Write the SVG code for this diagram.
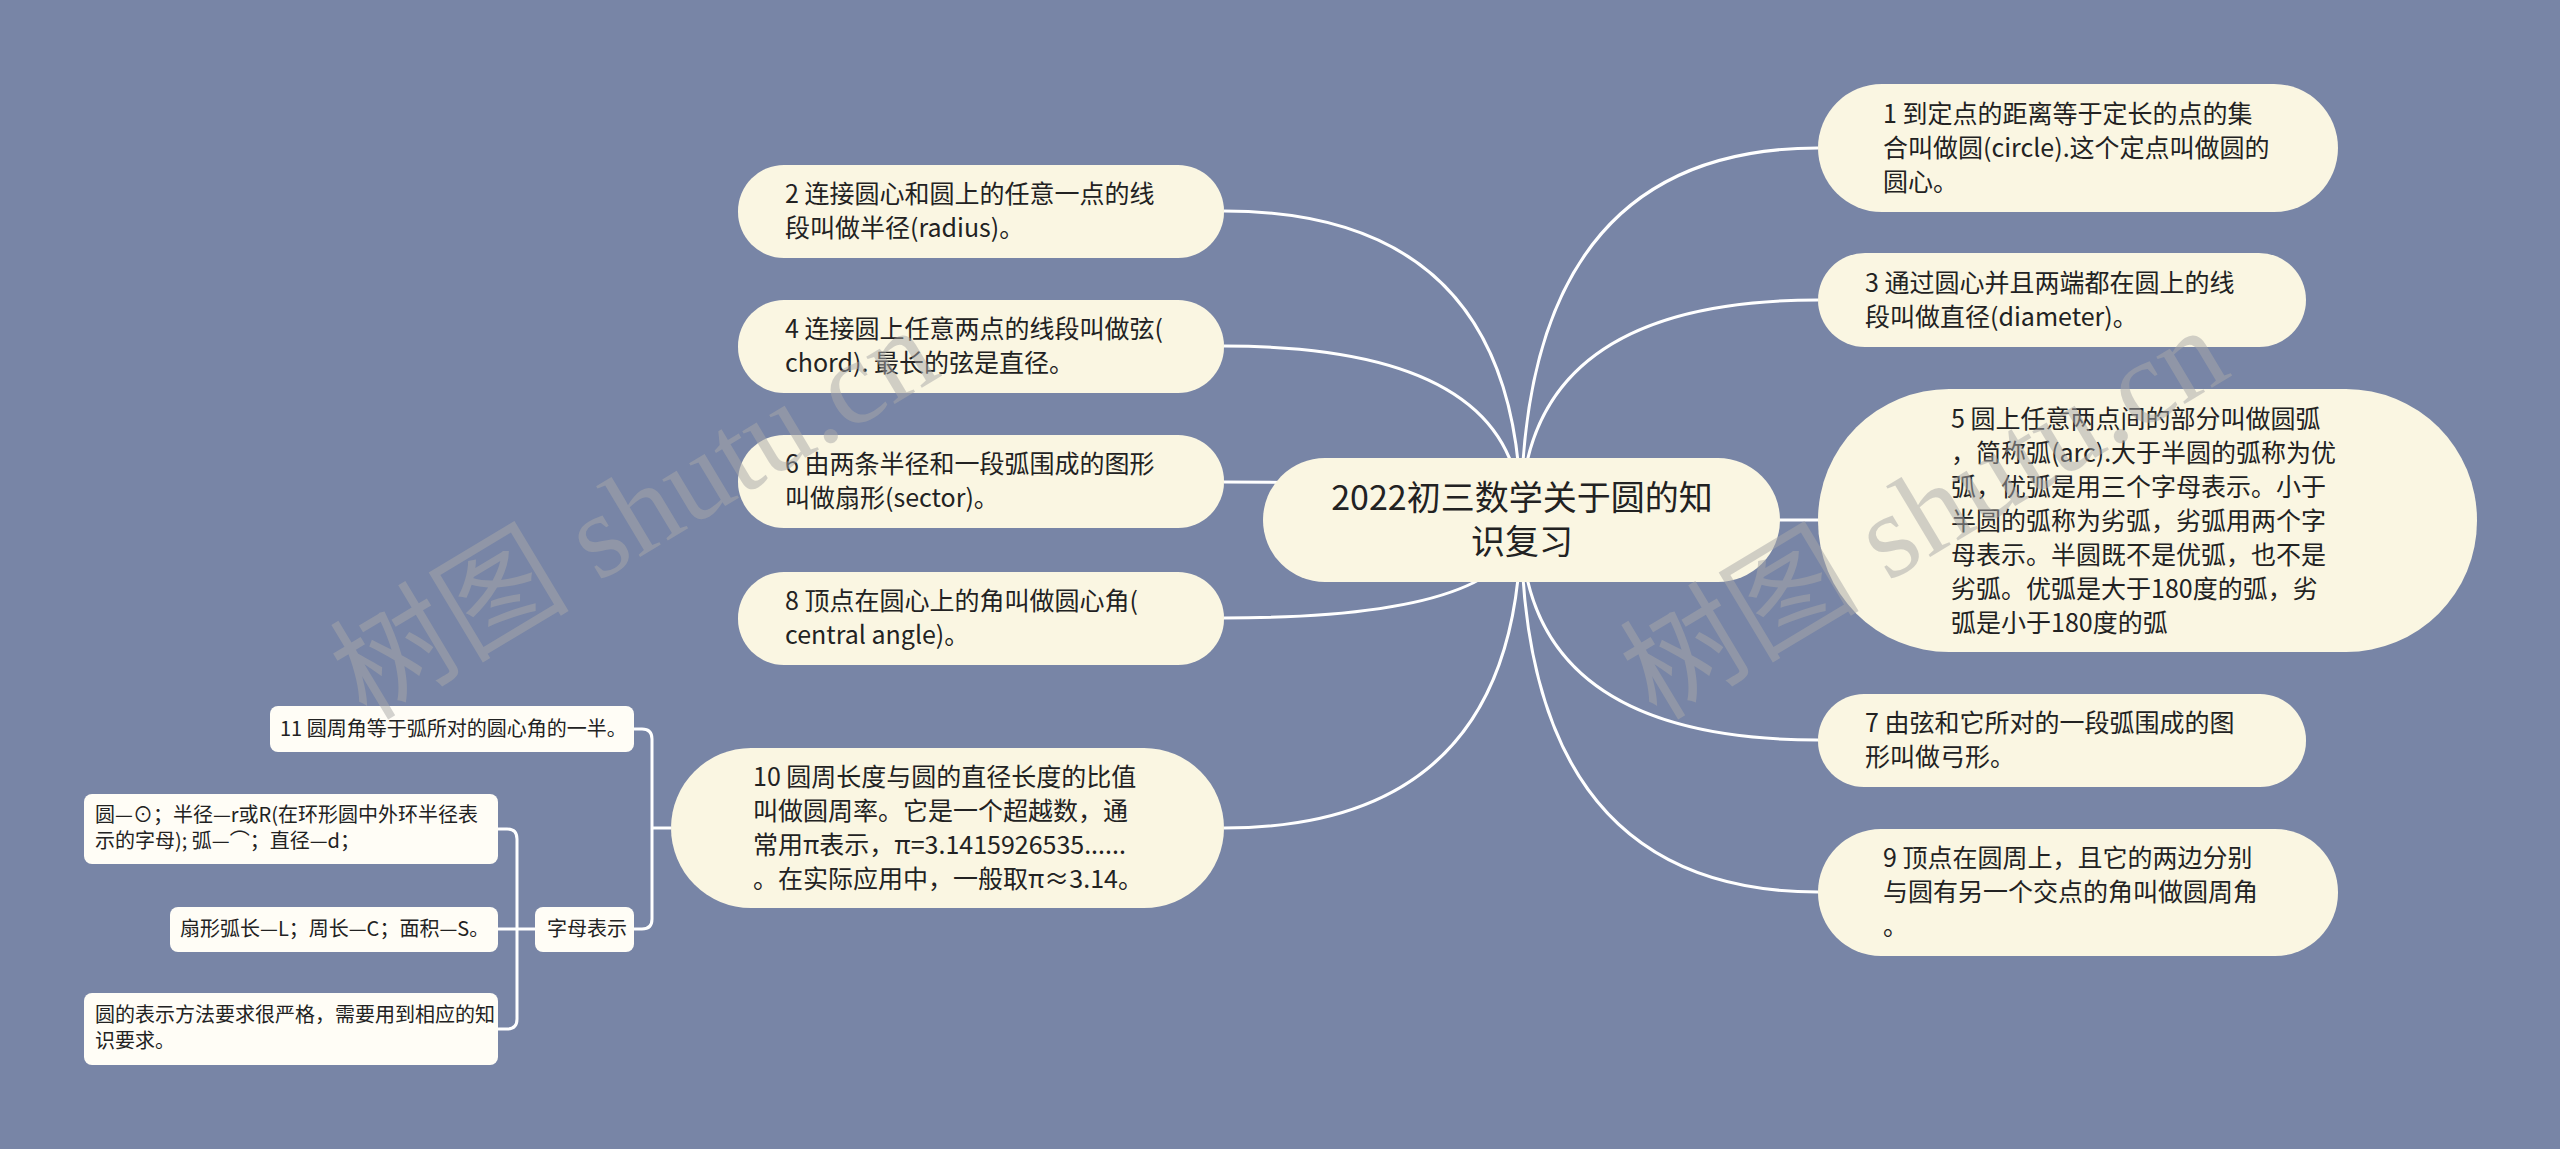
<svg xmlns="http://www.w3.org/2000/svg" width="2560" height="1149" viewBox="0 0 2560 1149">
<style>
.bg{fill:#7885a6}
.c{fill:none;stroke:#ffffff;stroke-width:3}
.n{fill:#faf6e2}
.l{fill:#fffdf6}
.t{font-family:"Noto Sans CJK SC","Liberation Sans",sans-serif;font-size:25px;fill:#222}
.rt{font-family:"Noto Sans CJK SC","Liberation Sans",sans-serif;font-size:34px;fill:#222;text-anchor:middle}
.s{font-family:"Noto Sans CJK SC","Liberation Sans",sans-serif;font-size:20px;fill:#222}
.wm{font-family:"Liberation Serif","Noto Sans CJK SC",serif;font-size:120px;fill:#a8a8a8;opacity:0.5;text-anchor:middle}
</style>
<rect class="bg" x="0" y="0" width="2560" height="1149"/>
<g id="connectors">
<path class="c" d="M1521,520 Q1521,148 1818,148"/>
<path class="c" d="M1521,520 Q1521,300 1818,300"/>
<path class="c" d="M1521,520 L1818,520"/>
<path class="c" d="M1521,520 Q1521,740 1818,740"/>
<path class="c" d="M1521,520 Q1521,892 1818,892"/>
<path class="c" d="M1521,520 Q1521,211 1224,211"/>
<path class="c" d="M1521,520 Q1521,346 1224,346"/>
<path class="c" d="M1521,520 Q1521,482 1224,482"/>
<path class="c" d="M1521,520 Q1521,618 1224,618"/>
<path class="c" d="M1521,520 Q1521,828 1224,828"/>
<path class="c" d="M671,828 L652,828"/>
<path class="c" d="M634,729 L642,729 Q652,729 652,739 L652,919 Q652,929 642,929 L634,929"/>
<path class="c" d="M535,929 L498,929"/>
<path class="c" d="M498,829 L507,829 Q517,829 517,839 L517,1019 Q517,1029 507,1029 L498,1029"/>
</g>
<g id="root">
<rect class="n" x="1263" y="458" width="517" height="124" rx="62"/>
<text class="rt" x="1522" y="510">2022初三数学关于圆的知</text>
<text class="rt" x="1522" y="554">识复习</text>
</g>
<g id="node1">
<rect class="n" x="1818" y="84" width="520" height="128" rx="64"/>
<text class="t" x="1883" y="123">1 到定点的距离等于定长的点的集</text>
<text class="t" x="1883" y="157">合叫做圆(circle).这个定点叫做圆的</text>
<text class="t" x="1883" y="191">圆心。</text>
</g>
<g id="node3">
<rect class="n" x="1818" y="253" width="488" height="94" rx="47"/>
<text class="t" x="1865" y="292">3 通过圆心并且两端都在圆上的线</text>
<text class="t" x="1865" y="326">段叫做直径(diameter)。</text>
</g>
<g id="node5">
<rect class="n" x="1818" y="389" width="659" height="263" rx="131"/>
<text class="t" x="1951" y="428">5 圆上任意两点间的部分叫做圆弧</text>
<text class="t" x="1951" y="462">，简称弧(arc).大于半圆的弧称为优</text>
<text class="t" x="1951" y="496">弧，优弧是用三个字母表示。小于</text>
<text class="t" x="1951" y="530">半圆的弧称为劣弧，劣弧用两个字</text>
<text class="t" x="1951" y="564">母表示。半圆既不是优弧，也不是</text>
<text class="t" x="1951" y="598">劣弧。优弧是大于180度的弧，劣</text>
<text class="t" x="1951" y="632">弧是小于180度的弧</text>
</g>
<g id="node7">
<rect class="n" x="1818" y="694" width="488" height="93" rx="46"/>
<text class="t" x="1865" y="732">7 由弦和它所对的一段弧围成的图</text>
<text class="t" x="1865" y="766">形叫做弓形。</text>
</g>
<g id="node9">
<rect class="n" x="1818" y="829" width="520" height="127" rx="63"/>
<text class="t" x="1883" y="867">9 顶点在圆周上，且它的两边分别</text>
<text class="t" x="1883" y="901">与圆有另一个交点的角叫做圆周角</text>
<text class="t" x="1883" y="935">。</text>
</g>
<g id="node2">
<rect class="n" x="738" y="165" width="486" height="93" rx="46"/>
<text class="t" x="785" y="203">2 连接圆心和圆上的任意一点的线</text>
<text class="t" x="785" y="237">段叫做半径(radius)。</text>
</g>
<g id="node4">
<rect class="n" x="738" y="300" width="486" height="93" rx="46"/>
<text class="t" x="785" y="338">4 连接圆上任意两点的线段叫做弦(</text>
<text class="t" x="785" y="372">chord). 最长的弦是直径。</text>
</g>
<g id="node6">
<rect class="n" x="738" y="435" width="486" height="93" rx="46"/>
<text class="t" x="785" y="473">6 由两条半径和一段弧围成的图形</text>
<text class="t" x="785" y="507">叫做扇形(sector)。</text>
</g>
<g id="node8">
<rect class="n" x="738" y="572" width="486" height="93" rx="46"/>
<text class="t" x="785" y="610">8 顶点在圆心上的角叫做圆心角(</text>
<text class="t" x="785" y="644">central angle)。</text>
</g>
<g id="node10">
<rect class="n" x="671" y="748" width="553" height="160" rx="80"/>
<text class="t" x="753" y="786">10 圆周长度与圆的直径长度的比值</text>
<text class="t" x="753" y="820">叫做圆周率。它是一个超越数，通</text>
<text class="t" x="753" y="854">常用π表示，π=3.1415926535......</text>
<text class="t" x="753" y="888">。在实际应用中，一般取π≈3.14。</text>
</g>
<g id="node11">
<rect class="l" x="270" y="706" width="364" height="46" rx="8"/>
<text class="s" x="280" y="736">11 圆周角等于弧所对的圆心角的一半。</text>
</g>
<g id="node-zimu">
<rect class="l" x="535" y="907" width="99" height="45" rx="8"/>
<text class="s" x="547" y="936">字母表示</text>
</g>
<g id="leafA">
<rect class="l" x="84" y="794" width="414" height="70" rx="8"/>
<text class="s" x="95" y="822">圆—⊙；半径—r或R(在环形圆中外环半径表</text>
<text class="s" x="95" y="848">示的字母); 弧—⌒；直径—d；</text>
</g>
<g id="leafB">
<rect class="l" x="170" y="907" width="328" height="45" rx="8"/>
<text class="s" x="180" y="936">扇形弧长—L；周长—C；面积—S。</text>
</g>
<g id="leafC">
<rect class="l" x="84" y="993" width="414" height="72" rx="8"/>
<text class="s" x="95" y="1022">圆的表示方法要求很严格，需要用到相应的知</text>
<text class="s" x="95" y="1048">识要求。</text>
</g>
<g id="watermark">
<text class="wm" transform="translate(655,548) rotate(-31)">树图 shutu.cn</text>
<text class="wm" transform="translate(1945,548) rotate(-31)">树图 shutu.cn</text>
</g>
</svg>
